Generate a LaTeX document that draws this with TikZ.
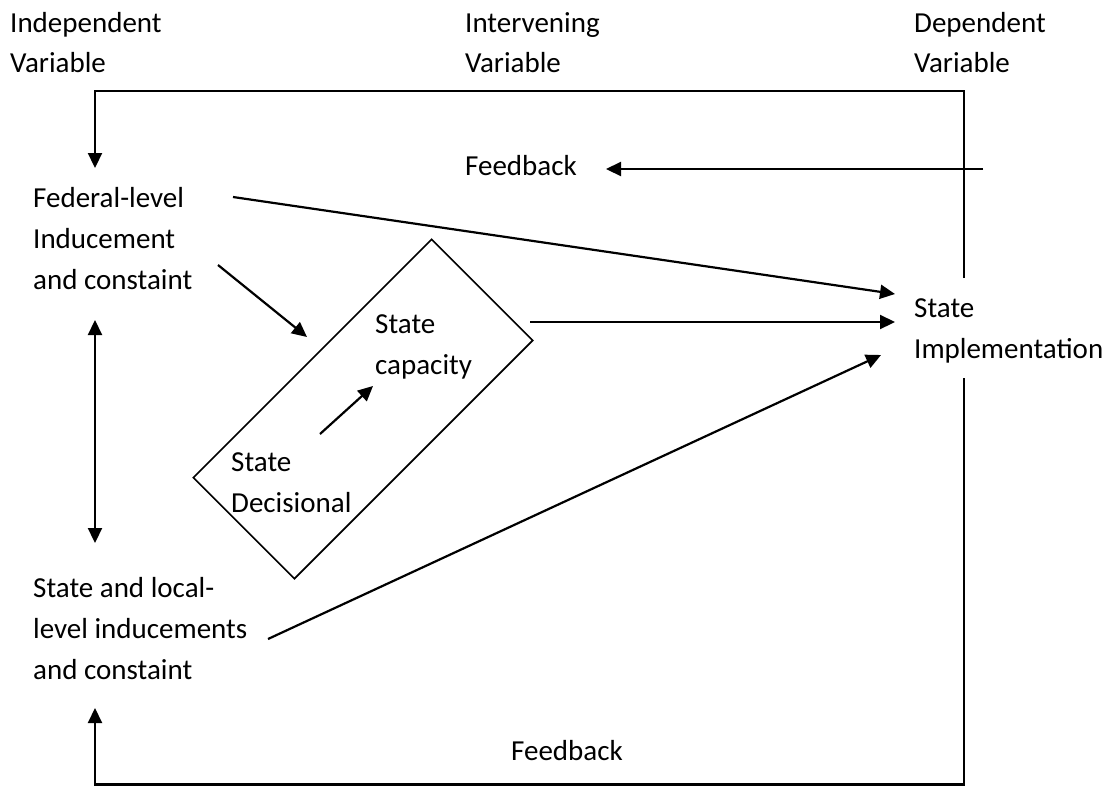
\documentclass[tikz,border=0pt]{standalone}
\usepackage{fontspec}
\setmainfont{Carlito}
\usetikzlibrary{arrows.meta}

\begin{document}
\begin{tikzpicture}[x=1pt,y=-1pt,
  lbl/.style={anchor=base west,inner sep=0pt,font=\fontsize{29}{41}\selectfont},
  tip/.tip={Triangle[length=15pt,width=14pt]},
  conn/.style={line width=2.2pt,-tip},
  both/.style={line width=2.2pt,tip-tip},
  frame/.style={draw,line width=1.6pt,inner sep=0pt}]
\useasboundingbox (0,0) rectangle (1119,785);

% column headings
\node[lbl,font=\fontsize{29}{40}\selectfont] (hind) at (10,32)
  {\vtop{\hbox{Independent}\hbox{Variable}}};
\node[lbl,font=\fontsize{29}{40}\selectfont] (hint) at (465,32)
  {\vtop{\hbox{Intervening}\hbox{Variable}}};
\node[lbl,font=\fontsize{29}{40}\selectfont] (hdep) at (914,32)
  {\vtop{\hbox{Dependent}\hbox{Variable}}};

% variables
\node[lbl] (fed) at (33,207)
  {\vtop{\hbox{Federal-level}\hbox{Inducement}\hbox{and constaint}}};
\node[lbl] (loc) at (33,597)
  {\vtop{\hbox{State and local-}\hbox{level inducements}\hbox{and constaint}}};
\node[lbl] (impl) at (914,317)
  {\vtop{\hbox{State}\hbox{Implementation}}};
\node[lbl] (fbtop) at (465,175) {Feedback};
\node[lbl] (fbbot) at (511,760) {Feedback};

% intervening box, tilted
\node[frame,rotate=45,minimum width=337pt,minimum height=143pt] (box) at (363,409) {};
\node[lbl] (cap) at (375,333) {\vtop{\hbox{State}\hbox{capacity}}};
\node[lbl] (dec) at (231,471) {\vtop{\hbox{State}\hbox{Decisional}}};

% connector end points
\coordinate (loopTopR) at (964,278);
\coordinate (loopTopL) at (95,91);
\coordinate (fedIn) at (95,168);
\coordinate (fbStart) at (983,169);
\coordinate (fbEnd) at (606,169);
\coordinate (loopBotR) at (964,378);
\coordinate (loopBotL) at (95,784.5);
\coordinate (locIn) at (95,708);
\coordinate (dblTop) at (95,320);
\coordinate (dblBot) at (95,543);
\coordinate (fedOutA) at (233,197);
\coordinate (implInA) at (895,294);
\coordinate (fedOutB) at (218,265);
\coordinate (boxIn) at (307,337);
\coordinate (boxOut) at (530,322);
\coordinate (implInB) at (895,322);
\coordinate (decOut) at (320,434);
\coordinate (capIn) at (373,386);
\coordinate (locOut) at (268,639);
\coordinate (implInC) at (881,355);

% feedback loops
\draw[conn] (loopTopR) |- (loopTopL) -- (fedIn);
\draw[conn] (fbStart) -- (fbEnd);
\draw[conn] (loopBotR) |- (loopBotL) -- (locIn);

% influences
\draw[both] (dblTop) -- (dblBot);
\draw[conn] (fedOutA) -- (implInA);
\draw[conn] (fedOutB) -- (boxIn);
\draw[conn] (boxOut) -- (implInB);
\draw[conn] (decOut) -- (capIn);
\draw[conn] (locOut) -- (implInC);
\end{tikzpicture}
\end{document}
